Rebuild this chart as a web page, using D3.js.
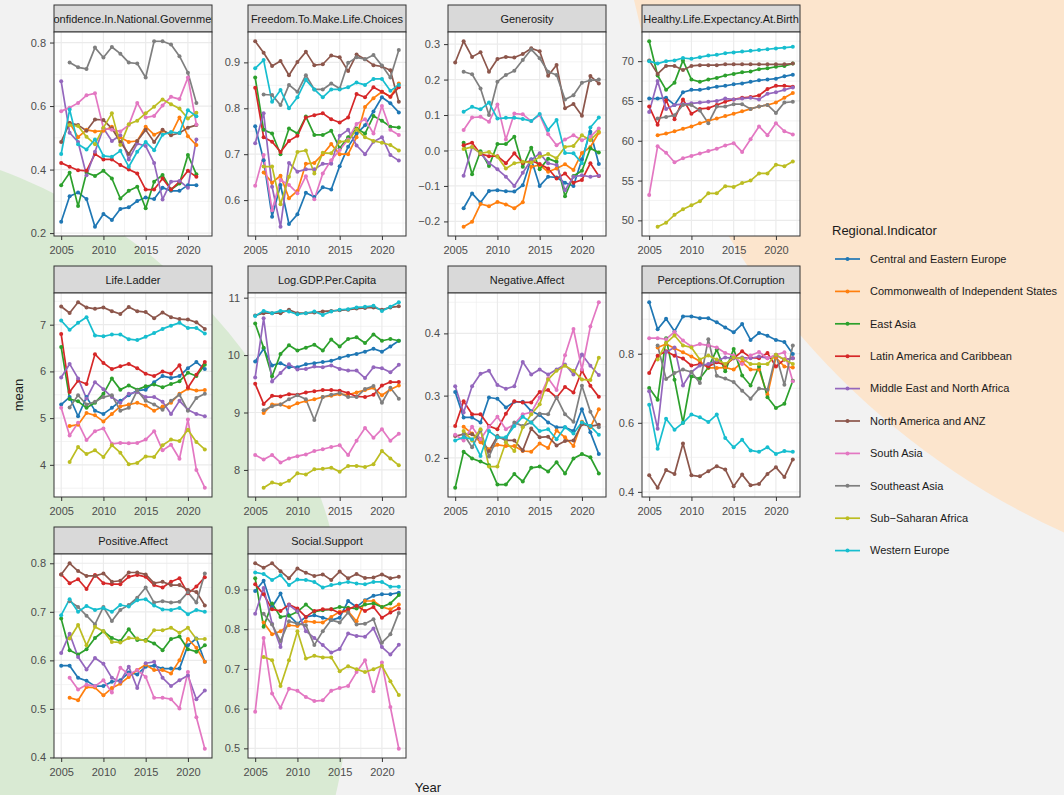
<!DOCTYPE html>
<html>
<head>
<meta charset="utf-8">
<script src="https://cdn.jsdelivr.net/npm/d3@7"></script>
<style>
body { margin: 0; background: #f2f2f2; }
svg text { font-family: "Liberation Sans", Arial, Helvetica, sans-serif; }
</style>
</head>
<body>
<svg id="chart" width="1064" height="795"></svg>
<script>

var years = [2005, 2006, 2007, 2008, 2009, 2010, 2011, 2012, 2013, 2014, 2015, 2016, 2017, 2018, 2019, 2020, 2021, 2022];
var xBreaks = [2005, 2010, 2015, 2020];

var regions = ["Central and Eastern Europe", "Commonwealth of Independent States", "East Asia",
    "Latin America and Caribbean", "Middle East and North Africa", "North America and ANZ",
    "South Asia", "Southeast Asia", "Sub\u2212Saharan Africa", "Western Europe"];
var regionColors = ["#1f77b4", "#ff7f0e", "#2ca02c", "#d62728", "#9467bd", "#8c564b", "#e377c2", "#7f7f7f", "#bcbd22", "#17becf"];

var indicators = ["Confidence.In.National.Government", "Freedom.To.Make.Life.Choices", "Generosity",
    "Healthy.Life.Expectancy.At.Birth", "Life.Ladder", "Log.GDP.Per.Capita", "Negative.Affect",
    "Perceptions.Of.Corruption", "Positive.Affect", "Social.Support"];

// one row per region (same order as regions), one value per year, null = no data
var confidence = [
    [0.236,0.316,0.328,0.307,0.22,0.26,0.241,0.276,0.281,0.301,0.312,0.307,0.343,0.333,0.333,0.351,0.351,null],
    [null,0.547,0.502,0.525,0.52,0.522,0.535,0.502,0.487,0.49,0.535,0.51,0.522,0.51,0.564,0.505,0.477,null],
    [0.351,0.39,0.285,0.39,0.38,0.396,0.372,0.309,0.333,0.346,0.278,0.362,0.383,0.337,0.356,0.446,0.385,null],
    [0.421,0.409,0.398,0.396,0.449,0.432,0.432,0.414,0.4,0.388,0.337,0.337,0.372,0.337,0.362,0.396,0.377,null],
    [0.678,0.516,0.487,0.382,0.456,0.53,0.49,0.508,0.432,0.482,0.474,0.421,0.306,0.362,0.364,0.343,0.495,null],
    [0.487,0.547,0.54,0.522,0.558,0.556,0.53,0.487,0.449,0.49,0.525,0.487,0.525,0.508,0.515,0.532,0.54,null],
    [0.584,0.595,0.61,0.634,0.64,0.53,0.525,0.52,0.54,0.61,0.564,0.569,0.602,0.629,0.622,0.69,0.542,null],
    [null,0.737,0.722,0.717,0.784,0.753,0.786,0.765,0.737,0.734,0.69,0.804,0.804,0.794,0.757,0.705,0.61,null],
    [null,0.54,0.537,0.503,0.48,0.532,0.577,0.477,0.543,0.554,0.577,0.598,0.621,0.606,0.592,0.561,0.579,null],
    [0.449,0.589,0.48,0.463,0.495,0.443,0.44,0.459,0.409,0.456,0.487,0.461,0.51,0.518,0.515,0.587,0.568,null]
];

var freedom = [
    [0.761,0.687,0.564,0.633,0.548,0.569,0.616,0.607,0.628,0.623,0.674,0.716,0.745,0.763,0.793,0.824,0.811,0.791],
    [null,0.66,0.638,0.653,0.604,0.62,0.679,0.681,0.7,0.722,0.7,0.7,0.737,0.803,0.822,0.836,0.825,0.854],
    [0.867,0.753,0.745,0.7,0.756,0.745,0.782,0.742,0.742,0.751,0.713,0.737,0.756,0.745,0.783,0.773,0.76,0.758],
    [0.845,0.737,0.727,0.705,0.729,0.74,0.78,0.785,0.789,0.776,0.769,0.78,0.831,0.824,0.846,0.836,0.825,0.846],
    [0.724,0.789,0.629,0.542,0.681,0.662,0.667,0.667,0.679,0.679,0.74,0.753,0.719,0.7,0.727,0.737,0.698,0.686],
    [0.946,0.921,0.892,0.903,0.872,0.901,0.923,0.894,0.896,0.915,0.911,0.881,0.917,0.907,0.894,0.891,0.883,0.814],
    [0.631,0.698,0.578,0.644,0.633,0.615,0.652,0.602,0.658,0.687,0.709,0.732,0.766,0.776,0.745,0.805,0.753,0.742],
    [null,0.83,0.829,0.807,0.851,0.836,0.872,0.841,0.841,0.854,0.843,0.899,0.911,0.907,0.916,0.893,0.867,0.927],
    [null,0.673,0.673,0.591,0.651,0.705,0.708,0.658,0.703,0.702,0.727,0.729,0.754,0.737,0.729,0.725,0.72,0.708],
    [0.887,0.905,0.814,0.84,0.8,0.824,0.862,0.841,0.824,0.841,0.841,0.846,0.856,0.851,0.864,0.864,0.838,0.851]
];

var generosity = [
    [null,-0.163,-0.121,-0.147,-0.114,-0.112,-0.115,-0.116,-0.098,-0.025,-0.1,-0.074,-0.076,-0.091,-0.1,-0.025,0.053,-0.038],
    [null,-0.215,-0.201,-0.151,-0.157,-0.145,-0.152,-0.163,-0.146,-0.046,-0.041,-0.06,-0.051,-0.039,-0.055,-0.007,0.01,0.05],
    [null,0.022,-0.067,-0.002,-0.044,0.018,0.018,0.039,-0.046,0.008,-0.053,-0.023,-0.032,-0.129,-0.072,-0.057,0.006,-0.006],
    [null,0.015,0.022,-0.01,-0.016,-0.016,-0.036,-0.008,-0.035,-0.029,-0.038,-0.051,-0.079,-0.065,-0.091,-0.083,-0.036,-0.072],
    [null,-0.071,0.009,-0.008,-0.035,-0.053,-0.074,-0.1,-0.063,-0.027,-0.008,-0.036,-0.041,-0.112,-0.074,-0.07,-0.074,-0.071],
    [0.248,0.308,0.264,0.277,0.222,0.258,0.264,0.262,0.272,0.288,0.28,0.211,0.241,0.119,0.131,0.098,0.21,0.189],
    [null,0.058,0.093,0.095,0.081,0.13,0.031,0.104,0.102,0.083,0.1,0.046,0.015,0.031,0.043,0.029,0.039,0.062],
    [null,0.222,0.215,0.175,0.1,0.194,0.213,0.225,0.255,0.285,0.26,0.222,0.213,0.144,0.156,0.191,0.198,0.2],
    [null,0.004,0.01,-0.008,-0.004,-0.018,-0.051,-0.036,-0.032,-0.034,-0.018,-0.01,-0.022,0.01,0.013,0.043,0.029,0.053],
    [null,0.109,0.123,0.116,0.135,0.09,0.092,0.092,0.089,0.083,0.103,0.058,0.086,-0.007,-0.008,-0.036,0.065,0.093]
];

var lifeExpectancy = [
    [65.3,65.3,65.4,64.5,66.1,66.4,66.4,66.6,66.8,66.9,67.1,67.2,67.4,67.6,67.7,67.8,68.1,68.3],
    [null,60.7,60.9,61.2,61.5,61.8,62.2,62.5,62.8,63.1,63.4,63.7,64.0,64.3,64.5,64.8,65.4,66.0],
    [72.5,68.2,66.4,67.3,70.1,67.7,67.4,67.7,67.9,68.2,68.4,68.6,68.7,69.0,69.1,69.3,69.4,69.7],
    [64.3,62.0,65.1,62.7,65.2,63.4,64.0,64.1,64.5,64.9,65.2,65.4,65.5,65.7,66.5,66.9,66.9,66.8],
    [63.6,67.5,64.0,64.5,64.6,64.7,64.8,64.9,65.0,65.3,65.2,65.3,65.4,65.2,65.9,66.1,66.4,66.7],
    [70.1,68.4,69.4,69.4,68.9,69.4,69.5,69.5,69.5,69.6,69.6,69.6,69.6,69.6,69.6,69.6,69.6,69.7],
    [53.2,59.3,58.5,57.3,57.8,58.1,58.4,58.7,59.0,59.4,59.7,58.6,60.2,61.8,60.7,62.2,61.2,60.8],
    [null,62.8,63.0,63.2,64.5,64.5,63.8,62.2,64.3,64.3,64.6,64.6,64.0,64.3,64.5,63.5,64.8,64.9],
    [null,49.2,49.7,50.7,51.4,51.9,52.4,53.4,53.4,54.3,54.2,54.7,55.0,55.9,55.9,57.0,56.8,57.4],
    [70.0,69.7,70.0,70.1,70.4,70.3,70.5,70.7,70.8,71.0,71.1,71.2,71.3,71.4,71.5,71.6,71.7,71.8]
];

var lifeLadder = [
    [5.29,5.45,5.04,5.45,5.16,5.09,5.22,5.37,5.49,5.59,5.61,5.77,5.9,5.86,5.9,6.07,6.2,6.05],
    [null,4.83,4.86,5.11,5.06,4.93,5.09,5.25,5.29,5.33,5.27,5.16,5.25,5.33,5.52,5.63,5.59,5.6],
    [6.52,5.41,5.36,5.22,5.33,5.52,5.85,5.61,5.7,5.61,5.68,5.72,5.66,5.73,5.79,5.97,5.9,6.14],
    [6.8,5.56,5.8,5.73,6.37,6.18,6.05,6.11,6.16,6.07,5.95,5.9,6.0,5.95,6.13,5.65,5.93,6.2],
    [5.87,6.16,5.85,5.42,5.77,5.62,5.45,5.33,5.52,5.56,5.45,5.45,5.35,5.09,5.37,5.18,5.09,5.04],
    [7.39,7.25,7.48,7.37,7.34,7.37,7.29,7.23,7.38,7.29,7.27,7.14,7.26,7.16,7.12,7.11,7.05,6.91],
    [5.22,4.63,4.9,4.53,4.72,4.78,4.45,4.47,4.46,4.47,4.54,4.72,4.31,4.43,4.13,4.97,3.89,3.51],
    [null,5.23,5.49,5.29,5.35,5.45,5.49,5.16,5.22,5.59,5.37,5.29,5.18,5.37,5.5,5.16,5.43,5.52],
    [null,4.06,4.38,4.23,4.31,4.17,4.42,4.26,4.01,4.04,4.18,4.17,4.42,4.54,4.51,4.75,4.49,4.33],
    [7.09,6.89,7.04,7.16,6.77,6.75,6.79,6.79,6.69,6.67,6.74,6.82,6.91,6.98,7.04,6.93,6.93,6.81]
];

var logGdp = [
    [9.89,10.11,9.82,9.86,9.79,9.79,9.84,9.86,9.88,9.9,9.95,9.99,10.02,10.06,10.11,10.06,10.15,10.25],
    [null,8.99,9.14,9.14,9.09,9.16,9.2,9.23,9.27,9.29,9.32,9.31,9.35,9.39,9.43,9.3,9.4,9.47],
    [10.55,10.13,9.63,10.02,10.17,10.08,10.13,10.18,10.08,10.27,10.15,10.28,10.31,10.21,10.36,10.25,10.28,10.25],
    [9.5,9.15,9.29,9.28,9.32,9.31,9.35,9.37,9.39,9.39,9.38,9.34,9.28,9.27,9.31,9.47,9.53,9.53],
    [9.61,10.64,9.54,9.69,9.84,9.75,9.76,9.8,9.79,9.82,9.76,9.73,9.73,9.6,9.79,9.77,9.7,9.83],
    [10.69,10.73,10.73,10.73,10.79,10.73,10.73,10.74,10.76,10.77,10.78,10.79,10.81,10.82,10.83,10.79,10.83,10.85],
    [8.26,8.18,8.26,8.13,8.2,8.24,8.27,8.33,8.36,8.4,8.43,8.26,8.51,8.73,8.56,8.71,8.51,8.63],
    [null,9.04,9.11,9.14,9.23,9.3,9.23,8.87,9.27,9.31,9.34,9.27,9.27,9.41,9.46,9.17,9.43,9.24],
    [null,7.69,7.78,7.75,7.81,7.94,7.92,8.01,8.02,8.04,7.97,8.07,8.07,8.05,8.1,8.33,8.2,8.08],
    [10.68,10.77,10.73,10.77,10.76,10.71,10.73,10.76,10.7,10.76,10.79,10.8,10.83,10.84,10.86,10.77,10.84,10.92]
];

var negativeAffect = [
    [0.306,0.265,0.265,0.257,0.297,0.295,0.281,0.29,0.29,0.275,0.269,0.257,0.249,0.249,0.243,0.278,0.241,0.206],
    [null,0.25,0.239,0.225,0.214,0.221,0.219,0.219,0.211,0.21,0.223,0.216,0.244,0.233,0.219,0.258,0.249,0.278],
    [0.152,0.21,0.199,0.194,0.188,0.157,0.157,0.174,0.162,0.184,0.186,0.178,0.193,0.175,0.199,0.206,0.201,0.175],
    [0.251,0.291,0.27,0.27,0.251,0.246,0.271,0.291,0.289,0.289,0.306,0.309,0.297,0.314,0.305,0.34,0.316,0.298],
    [0.315,0.273,0.315,0.335,0.34,0.317,0.311,0.315,0.354,0.334,0.342,0.334,0.342,0.35,0.334,0.366,0.348,0.333],
    [0.235,0.238,0.238,0.23,0.211,0.235,0.228,0.228,0.212,0.247,0.233,0.234,0.22,0.227,0.228,0.254,0.251,0.253],
    [0.237,0.228,0.25,0.23,0.25,0.266,0.246,0.254,0.27,0.273,0.297,0.328,0.309,0.365,0.407,0.342,0.411,0.45],
    [null,0.238,0.217,0.244,0.202,0.233,0.23,0.257,0.251,0.257,0.271,0.27,0.297,0.27,0.258,0.316,0.274,0.249],
    [null,0.243,0.228,0.246,0.186,0.186,0.225,0.211,0.249,0.27,0.286,0.326,0.34,0.348,0.34,0.326,0.325,0.361],
    [0.228,0.233,0.23,0.203,0.243,0.233,0.233,0.251,0.266,0.257,0.243,0.246,0.23,0.249,0.239,0.257,0.251,0.237]
];

var corruption = [
    [0.949,0.871,0.901,0.865,0.908,0.908,0.903,0.903,0.891,0.876,0.862,0.886,0.84,0.86,0.852,0.84,0.834,0.799],
    [null,0.818,0.828,0.816,0.804,0.792,0.778,0.759,0.759,0.76,0.754,0.776,0.754,0.754,0.681,0.789,0.763,0.76],
    [0.701,0.667,0.845,0.725,0.6,0.734,0.728,0.76,0.812,0.749,0.814,0.737,0.708,0.763,0.674,0.643,0.655,0.722],
    [0.744,0.794,0.807,0.794,0.786,0.766,0.77,0.763,0.775,0.768,0.787,0.807,0.789,0.787,0.802,0.763,0.783,0.787],
    [0.691,0.583,0.805,0.818,0.708,0.747,0.766,0.77,0.78,0.789,0.787,0.789,0.787,0.792,0.787,0.795,0.783,0.787],
    [0.448,0.412,0.463,0.452,0.54,0.448,0.445,0.46,0.474,0.465,0.416,0.45,0.419,0.423,0.452,0.471,0.443,0.494],
    [0.845,0.845,0.842,0.863,0.838,0.821,0.828,0.824,0.818,0.802,0.795,0.77,0.795,0.805,0.787,0.797,0.804,0.72],
    [null,0.824,0.727,0.744,0.754,0.747,0.715,0.842,0.736,0.728,0.718,0.693,0.67,0.699,0.696,0.797,0.71,0.824],
    [null,0.783,0.831,0.853,0.824,0.818,0.783,0.795,0.783,0.77,0.789,0.786,0.77,0.77,0.77,0.797,0.783,0.77],
    [0.652,0.525,0.612,0.58,0.6,0.624,0.616,0.602,0.624,0.556,0.529,0.551,0.52,0.516,0.529,0.51,0.518,0.516]
];

var positiveAffect = [
    [0.589,0.589,0.564,0.558,0.547,0.547,0.556,0.559,0.575,0.571,0.587,0.589,0.583,0.583,0.583,0.631,0.645,0.597],
    [null,0.523,0.518,0.545,0.544,0.528,0.543,0.552,0.566,0.58,0.591,0.58,0.58,0.573,0.6,0.644,0.626,0.597],
    [0.686,0.621,0.612,0.623,0.646,0.66,0.646,0.64,0.664,0.642,0.642,0.635,0.621,0.644,0.649,0.623,0.618,0.631],
    [0.777,0.759,0.767,0.747,0.776,0.759,0.757,0.757,0.772,0.776,0.772,0.755,0.75,0.762,0.769,0.738,0.752,0.771],
    [0.615,0.655,0.607,0.581,0.605,0.593,0.564,0.556,0.587,0.543,0.594,0.597,0.564,0.547,0.559,0.569,0.52,0.538],
    [0.777,0.8,0.784,0.774,0.774,0.779,0.762,0.764,0.781,0.781,0.777,0.759,0.762,0.755,0.755,0.745,0.741,0.713],
    [null,0.564,0.54,0.55,0.547,0.559,0.534,0.585,0.571,0.58,0.566,0.523,0.523,0.52,0.501,0.576,0.483,0.418],
    [null,0.722,0.71,0.692,0.674,0.71,0.681,0.704,0.714,0.729,0.75,0.719,0.722,0.719,0.721,0.74,0.719,0.779],
    [null,0.645,0.673,0.631,0.669,0.66,0.638,0.637,0.646,0.645,0.64,0.662,0.662,0.667,0.657,0.667,0.644,0.644],
    [0.693,0.726,0.7,0.712,0.704,0.708,0.7,0.714,0.711,0.724,0.726,0.713,0.705,0.704,0.708,0.695,0.704,0.7]
];

var socialSupport = [
    [0.896,0.922,0.856,0.89,0.835,0.814,0.831,0.835,0.829,0.823,0.829,0.871,0.856,0.873,0.884,0.888,0.888,0.892],
    [null,0.817,0.787,0.795,0.81,0.808,0.82,0.818,0.817,0.831,0.844,0.845,0.82,0.871,0.871,0.856,0.85,0.862],
    [0.928,0.806,0.865,0.831,0.834,0.844,0.862,0.844,0.848,0.85,0.856,0.854,0.852,0.862,0.865,0.856,0.865,0.886],
    [0.913,0.888,0.85,0.846,0.862,0.852,0.831,0.846,0.85,0.85,0.841,0.85,0.859,0.846,0.856,0.829,0.842,0.852],
    [0.839,0.904,0.814,0.755,0.861,0.845,0.795,0.778,0.76,0.741,0.75,0.789,0.783,0.781,0.802,0.755,0.736,0.761],
    [0.966,0.955,0.966,0.946,0.928,0.953,0.942,0.934,0.938,0.924,0.945,0.928,0.939,0.929,0.93,0.938,0.928,0.932],
    [0.592,0.778,0.638,0.602,0.65,0.645,0.629,0.619,0.621,0.645,0.652,0.657,0.692,0.722,0.644,0.716,0.604,0.499],
    [null,0.839,0.812,0.77,0.82,0.814,0.81,0.76,0.795,0.823,0.817,0.842,0.812,0.814,0.825,0.766,0.787,0.841],
    [null,0.73,0.722,0.657,0.722,0.795,0.726,0.733,0.729,0.729,0.694,0.707,0.699,0.692,0.699,0.708,0.669,0.634],
    [0.943,0.939,0.924,0.936,0.911,0.925,0.924,0.919,0.905,0.911,0.915,0.919,0.915,0.913,0.919,0.919,0.907,0.907]
];

// y breaks of each facet (free y scales)
var yBreaks = [
    [0.2, 0.4, 0.6, 0.8],
    [0.6, 0.7, 0.8, 0.9],
    [-0.2, -0.1, 0, 0.1, 0.2, 0.3],
    [50, 55, 60, 65, 70],
    [4, 5, 6, 7],
    [8, 9, 10, 11],
    [0.2, 0.3, 0.4],
    [0.4, 0.6, 0.8],
    [0.4, 0.5, 0.6, 0.7, 0.8],
    [0.5, 0.6, 0.7, 0.8, 0.9]
];
var yFormats = [".1f", ".1f", ".1f", "d", "d", "d", ".1f", ".1f", ".1f", ".1f"];

var panelValues = [confidence, freedom, generosity, lifeExpectancy, lifeLadder, logGdp,
    negativeAffect, corruption, positiveAffect, socialSupport];


/*------------- layout -------------*/

var colLeft = [54, 248, 448, 642];
var rowTop = [5, 266, 527];
var panelW = 158;
var stripH = 27;
var plotH = 204;

var svg = d3.select("#chart");

// decorative background blobs
svg.append("rect").attr("width", 1064).attr("height", 795).attr("fill", "#f2f2f2");
svg.append("circle").attr("cx", -185).attr("cy", 672).attr("r", 535).attr("fill", "#d9ead3");
svg.append("circle").attr("cx", 1377).attr("cy", -160).attr("r", 760).attr("fill", "#fce5cd");

var x = d3.scaleLinear()
    .domain([years[0] - 0.85, years[years.length - 1] + 0.85])
    .range([0, panelW]);

function minorBreaks(breaks, domain) {
    var step = breaks[1] - breaks[0];
    var out = [];
    for (var i = -1; i < breaks.length; i++) {
        var m = breaks[0] + step * (i + 0.5);
        if (m > domain[0] && m < domain[1]) out.push(m);
    }
    return out;
}

function drawPanel(k) {
    var col = k % 4, row = Math.floor(k / 4);
    var values = panelValues[k];

    var g = svg.append("g")
        .attr("transform", "translate(" + colLeft[col] + "," + rowTop[row] + ")");

    // strip
    g.append("clipPath").attr("id", "strip" + k)
        .append("rect").attr("width", panelW).attr("height", stripH);

    g.append("rect")
        .attr("width", panelW).attr("height", stripH)
        .attr("fill", "#d9d9d9").attr("stroke", "#333333").attr("stroke-width", 1);

    g.append("text")
        .attr("clip-path", "url(#strip" + k + ")")
        .attr("x", panelW / 2).attr("y", stripH / 2 + 0.5)
        .attr("dy", "0.35em")
        .attr("text-anchor", "middle")
        .style("font-size", "11px")
        .style("fill", "#1a1a1a")
        .text(indicators[k]);

    var plot = g.append("g").attr("transform", "translate(0," + stripH + ")");

    var flat = [];
    values.forEach(function(r) { r.forEach(function(v) { if (v !== null) flat.push(v); }); });
    var ext = d3.extent(flat);
    var pad = (ext[1] - ext[0]) * 0.05;
    var y = d3.scaleLinear().domain([ext[0] - pad, ext[1] + pad]).range([plotH, 0]);

    plot.append("rect").attr("width", panelW).attr("height", plotH).attr("fill", "white");

    // grid
    var grid = plot.append("g").attr("stroke", "#ebebeb").attr("fill", "none");
    grid.selectAll(".ymin").data(minorBreaks(yBreaks[k], y.domain())).enter().append("line")
        .attr("x1", 0).attr("x2", panelW)
        .attr("y1", function(d) { return y(d); }).attr("y2", function(d) { return y(d); })
        .attr("stroke-width", 0.6);
    grid.selectAll(".xmin").data(minorBreaks(xBreaks, x.domain())).enter().append("line")
        .attr("y1", 0).attr("y2", plotH)
        .attr("x1", function(d) { return x(d); }).attr("x2", function(d) { return x(d); })
        .attr("stroke-width", 0.6);
    grid.selectAll(".ymaj").data(yBreaks[k]).enter().append("line")
        .attr("x1", 0).attr("x2", panelW)
        .attr("y1", function(d) { return y(d); }).attr("y2", function(d) { return y(d); })
        .attr("stroke-width", 1.2);
    grid.selectAll(".xmaj").data(xBreaks).enter().append("line")
        .attr("y1", 0).attr("y2", plotH)
        .attr("x1", function(d) { return x(d); }).attr("x2", function(d) { return x(d); })
        .attr("stroke-width", 1.2);

    var line = d3.line()
        .defined(function(d) { return d !== null; })
        .x(function(d, i) { return x(years[i]); })
        .y(function(d) { return y(d); });

    plot.append("g").selectAll("path").data(values).enter().append("path")
        .attr("d", line)
        .attr("fill", "none")
        .attr("stroke", function(d, i) { return regionColors[i]; })
        .attr("stroke-width", 1.7)
        .attr("stroke-linejoin", "round");

    values.forEach(function(series, s) {
        var pts = [];
        series.forEach(function(v, i) { if (v !== null) pts.push({ year: years[i], v: v }); });
        plot.append("g").selectAll("circle").data(pts).enter().append("circle")
            .attr("cx", function(d) { return x(d.year); })
            .attr("cy", function(d) { return y(d.v); })
            .attr("r", 2)
            .attr("fill", regionColors[s]);
    });

    plot.append("rect").attr("width", panelW).attr("height", plotH)
        .attr("fill", "none").attr("stroke", "#333333").attr("stroke-width", 1);

    // axes
    var yAxis = plot.append("g")
        .call(d3.axisLeft(y).tickValues(yBreaks[k]).tickSize(4).tickPadding(4)
            .tickFormat(d3.format(yFormats[k])));
    var xAxis = plot.append("g")
        .attr("transform", "translate(0," + plotH + ")")
        .call(d3.axisBottom(x).tickValues(xBreaks).tickSize(4).tickPadding(6)
            .tickFormat(d3.format("d")));

    [yAxis, xAxis].forEach(function(a) {
        a.select(".domain").remove();
        a.selectAll(".tick line").attr("stroke", "#333333");
        a.selectAll(".tick text")
            .style("font-family", "'Liberation Sans', Arial, sans-serif")
            .style("font-size", "11px")
            .style("fill", "#4d4d4d");
    });
}

for (var k = 0; k < indicators.length; k++) drawPanel(k);


/*------------- titles & legend -------------*/

svg.append("text")
    .attr("transform", "translate(23,395) rotate(-90)")
    .attr("text-anchor", "middle")
    .style("font-size", "13px").style("fill", "#1a1a1a")
    .text("mean");

svg.append("text")
    .attr("x", 428).attr("y", 792)
    .attr("text-anchor", "middle")
    .style("font-size", "13px").style("fill", "#1a1a1a")
    .text("Year");

var legend = svg.append("g").attr("transform", "translate(832,0)");

legend.append("text")
    .attr("x", 0).attr("y", 235)
    .style("font-size", "13px").style("fill", "#1a1a1a")
    .text("Regional.Indicator");

var items = legend.selectAll(".item").data(regions).enter().append("g")
    .attr("transform", function(d, i) { return "translate(0," + (259 + i * 32.4) + ")"; });

items.append("line")
    .attr("x1", 3).attr("x2", 28)
    .attr("stroke", function(d, i) { return regionColors[i]; })
    .attr("stroke-width", 1.7);
items.append("circle")
    .attr("cx", 15.5).attr("r", 2)
    .attr("fill", function(d, i) { return regionColors[i]; });
items.append("text")
    .attr("x", 38).attr("dy", "0.35em")
    .style("font-size", "11px").style("fill", "#1a1a1a")
    .text(function(d) { return d; });

</script>
</body>
</html>
